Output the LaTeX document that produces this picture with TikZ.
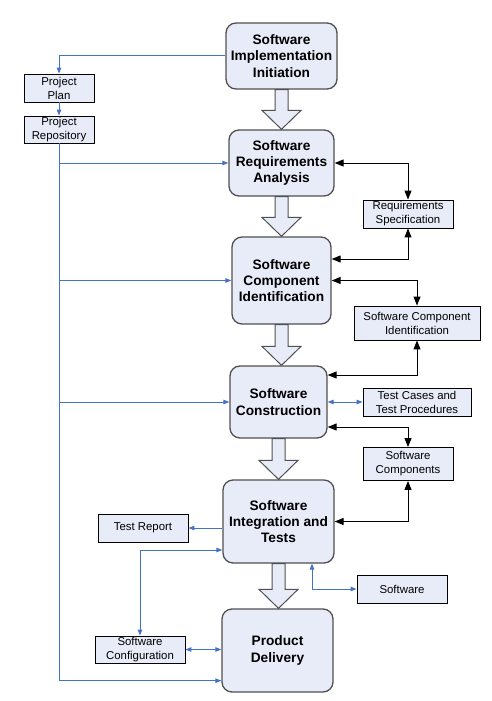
\documentclass[tikz,border=0pt]{standalone}
\usepackage{fontspec}
\setmainfont{Liberation Sans}
\usetikzlibrary{arrows.meta,calc}
\definecolor{boxfill}{RGB}{232,236,248}
\definecolor{boxedge}{RGB}{80,80,80}
\definecolor{linkblue}{RGB}{68,114,196}

\begin{document}
\begin{tikzpicture}[x=1pt, y=1pt,
    phase/.style={rectangle, rounded corners=10pt, draw=boxedge, line width=1.3pt, fill=boxfill, align=center, inner sep=1pt, font=\fontsize{13.7}{16.4}\selectfont\bfseries},
    product/.style={rectangle, draw, line width=0.9pt, fill=boxfill, align=center, inner sep=1pt, font=\fontsize{11.4}{14}\selectfont},
    blueline/.style={draw=linkblue, line width=1pt, -{Triangle[length=6pt,width=4.5pt]}},
    blueboth/.style={draw=linkblue, line width=1pt, {Triangle[length=6pt,width=4.5pt]}-{Triangle[length=6pt,width=4.5pt]}},
    blackboth/.style={line width=1pt, {Triangle[length=9pt,width=7pt]}-{Triangle[length=9pt,width=7pt]}},
    blockarrow/.style={draw=boxedge, line width=1pt, fill=boxfill}]
    \useasboundingbox (0,0) rectangle (491,-701) ;

    % phases
    \node[phase, minimum width=111, minimum height=66] (init) at (281.5,-56) {Software\\Implementation\\Initiation} ;
    \node[phase, minimum width=105, minimum height=66] (reqana) at (281.5,-163) {Software\\Requirements\\Analysis} ;
    \node[phase, minimum width=99, minimum height=87] (compid) at (281.5,-280.5) {Software\\Component\\Identification} ;
    \node[phase, minimum width=97, minimum height=72] (constr) at (278.5,-402) {Software\\Construction} ;
    \node[phase, minimum width=111, minimum height=83] (integ) at (278.5,-521.5) {Software\\Integration and\\Tests} ;
    \node[phase, minimum width=111, minimum height=83] (deliv) at (277.5,-650.5) {Product\\Delivery} ;

    % work products
    \node[product, minimum width=70, minimum height=28] (plan) at (59,-88) {Project\\Plan} ;
    \node[product, minimum width=70, minimum height=27] (repo) at (59,-129.5) {Project\\Repository} ;
    \node[product, minimum width=90, minimum height=28] (reqspec) at (408,-214) {Requirements\\Specification} ;
    \node[product, minimum width=126, minimum height=34] (swcompid) at (417,-323) {Software Component\\Identification} ;
    \node[product, minimum width=108, minimum height=28] (testcases) at (417,-402) {Test Cases and\\Test Procedures} ;
    \node[product, minimum width=90, minimum height=33] (swcomps) at (408,-464) {Software\\Components} ;
    \node[product, minimum width=90, minimum height=28] (testrep) at (143,-528) {Test Report} ;
    \node[product, minimum width=90, minimum height=27] (swconf) at (140,-649.5) {Software\\Configuration} ;
    \node[product, minimum width=90, minimum height=28] (software) at (402,-589) {Software} ;

    % big arrows between phases
    \foreach \a/\b in {init/reqana, reqana/compid, compid/constr, constr/integ, integ/deliv}
        \draw[blockarrow] ($(\a.south)+(-6.5,0)$) -- ($(\a.south)+(6.5,0)$)
            -- ($(\a.south |- \b.north)+(6.5,19)$) -- ($(\a.south |- \b.north)+(19.5,19)$)
            -- (\a.south |- \b.north) -- ($(\a.south |- \b.north)+(-19.5,19)$)
            -- ($(\a.south |- \b.north)+(-6.5,19)$) -- cycle ;

    % blue links
    \draw[blueline] (init.west) -| (plan.north) ;
    \draw[blueline] (plan.south) -- (repo.north) ;
    \draw[blueline] (repo.south) |- (reqana.west) ;
    \draw[blueline] (repo.south) |- (compid.west) ;
    \draw[blueline] (repo.south) |- (constr.west) ;
    \draw[blueline] (repo.south) |- ($(deliv.south west)+(0,12)$) ;
    \draw[blueboth] (constr.east) -- (testcases.west) ;
    \draw[blueline] (integ.west |- testrep.east) -- (testrep.east) ;
    \draw[blueboth] ($(integ.west)+(0,-28.5)$) -| (swconf.north) ;
    \draw[blueboth] (swconf.east) -- (swconf.east -| deliv.west) ;
    \draw[blueboth] ($(integ.south)+(33.5,0)$) |- (software.west) ;

    % black links
    \draw[blackboth] (reqana.east) -| (reqspec.north) ;
    \draw[blackboth] (reqspec.south) |- ($(compid.east)+(0,21.5)$) ;
    \draw[blackboth] (compid.east) -| (swcompid.north) ;
    \draw[blackboth] (swcompid.south) |- ($(constr.east)+(0,27)$) ;
    \draw[blackboth] ($(constr.east)+(0,-25)$) -| (swcomps.north) ;
    \draw[blackboth] (swcomps.south) |- (integ.east) ;
\end{tikzpicture}
\end{document}
